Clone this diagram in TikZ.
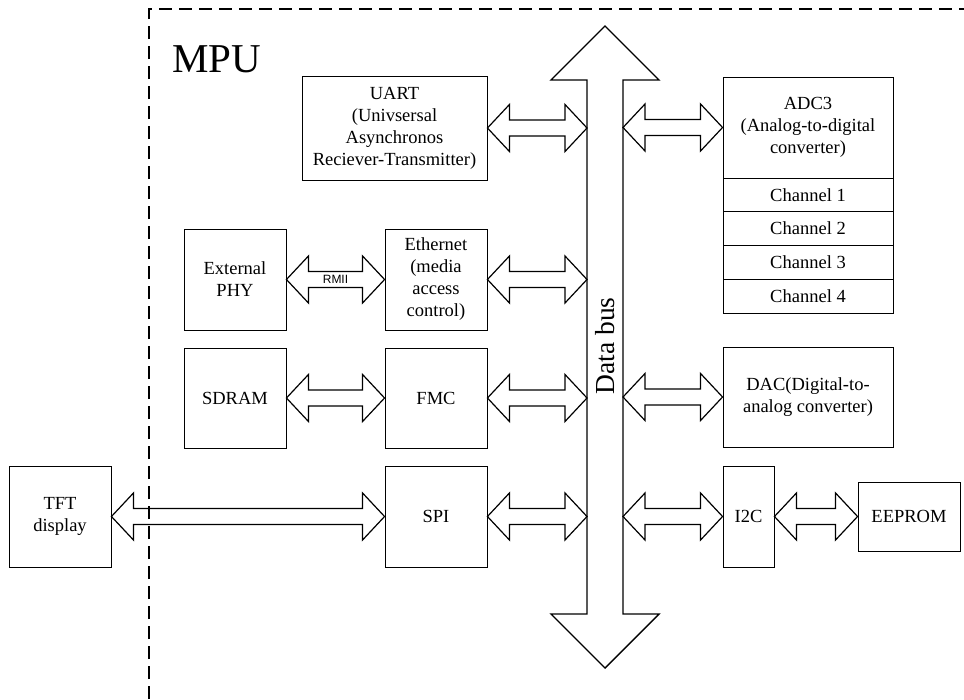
\documentclass[tikz,border=0pt]{standalone}
\usepackage{fontspec}
\setmainfont{Liberation Serif}
\newfontfamily\rmiifont{Liberation Sans}
\usetikzlibrary{calc}
\newcommand{\dblarr}[2]{%
  \draw[darr] let \p1=(#1), \p2=(#2) in
    (\x1,\y1) -- (\x1+22pt,\y1+23.5pt) -- (\x1+22pt,\y1+8pt) -- (\x2-22pt,\y2+8pt)
    -- (\x2-22pt,\y2+23.5pt) -- (\x2,\y2) -- (\x2-22pt,\y2-23.5pt) -- (\x2-22pt,\y2-8pt)
    -- (\x1+22pt,\y1-8pt) -- (\x1+22pt,\y1-23.5pt) -- cycle;}
\tikzset{
  blk/.style={draw, line width=0.9pt, inner sep=0pt, align=center,
    font=\fontsize{18.5}{22}\selectfont},
  darr/.style={draw, fill=white, line width=1.2pt, line join=miter},
  busarr/.style={draw, fill=white, line width=1.4pt, line join=miter},
  frame/.style={line width=1.3pt, dash pattern=on 13pt off 7pt}
}
\begin{document}
\begin{tikzpicture}[x=1pt,y=-1pt]
\useasboundingbox (0,0) rectangle (964,699);
\fill[white] (0,0) rectangle (964,699);

% data bus
\draw[busarr] (605,26) -- (659,80) -- (623,80) -- (623,614) -- (659,614) -- (605,668)
  -- (551,614) -- (587,614) -- (587,80) -- (551,80) -- cycle;
\node[rotate=90, inner sep=0pt, font=\fontsize{27.5}{30}\selectfont] (busl) at (605,346) {Data bus};

% bus tap points
\coordinate (bL1) at (587,128);
\coordinate (bL2) at (587,279.5);
\coordinate (bL3) at (587,398);
\coordinate (bL4) at (587,516.5);
\coordinate (bR1) at (623,127.5);
\coordinate (bR2) at (623,397);
\coordinate (bR3) at (623,516.5);

% MPU label
\node[anchor=base west, inner sep=0pt, font=\fontsize{41}{44}\selectfont] (mpu) at (172,72) {MPU};

% blocks
\node[blk, minimum width=185pt, minimum height=104pt] (uart) at (394.5,128)
  {UART\\(Univsersal\\Asynchronos\\Reciever-Transmitter)};
\node[blk, minimum width=170pt, minimum height=101pt] (adc) at (808,127.5)
  {ADC3\\(Analog-to-digital\\converter)};
\node[blk, minimum width=170pt, minimum height=33.75pt] (ch1) at (808,194.875) {Channel 1};
\node[blk, minimum width=170pt, minimum height=33.75pt] (ch2) at (808,228.625) {Channel 2};
\node[blk, minimum width=170pt, minimum height=33.75pt] (ch3) at (808,262.375) {Channel 3};
\node[blk, minimum width=170pt, minimum height=33.75pt] (ch4) at (808,296.125) {Channel 4};

\node[blk, minimum width=102pt, minimum height=101pt] (phy) at (235,279.5) {External\\PHY};
\node[blk, minimum width=102pt, minimum height=101pt] (eth) at (436,279.5)
  {Ethernet\\(media\\access\\control)};
\node[blk, minimum width=102pt, minimum height=100pt] (sdram) at (235,398) {SDRAM};
\node[blk, minimum width=102pt, minimum height=100pt] (fmc) at (436,398) {FMC};
\node[blk, minimum width=170pt, minimum height=100pt] (dac) at (808,397)
  {DAC(Digital-to-\\analog converter)};
\node[blk, minimum width=102pt, minimum height=101pt] (tft) at (60,516.5) {TFT\\display};
\node[blk, minimum width=102pt, minimum height=101pt] (spi) at (436,516.5) {SPI};
\node[blk, minimum width=51pt, minimum height=101pt] (i2c) at (748.5,516.5) {I2C};
\node[blk, minimum width=102pt, minimum height=69pt] (eeprom) at (909,516.5) {EEPROM};

% double arrows
\dblarr{uart.east}{bL1}
\dblarr{bR1}{adc.west}
\dblarr{phy.east}{eth.west}
\dblarr{eth.east}{bL2}
\dblarr{sdram.east}{fmc.west}
\dblarr{fmc.east}{bL3}
\dblarr{bR2}{dac.west}
\dblarr{tft.east}{spi.west}
\dblarr{spi.east}{bL4}
\dblarr{bR3}{i2c.west}
\dblarr{i2c.east}{eeprom.west}

\node[inner sep=0pt, font=\rmiifont\fontsize{12}{12}\selectfont] (rmii) at (335.5,279.5) {RMII};

% MPU boundary
\draw[frame] (149,699) -- (149,9) -- (964,9);
\end{tikzpicture}
\end{document}
